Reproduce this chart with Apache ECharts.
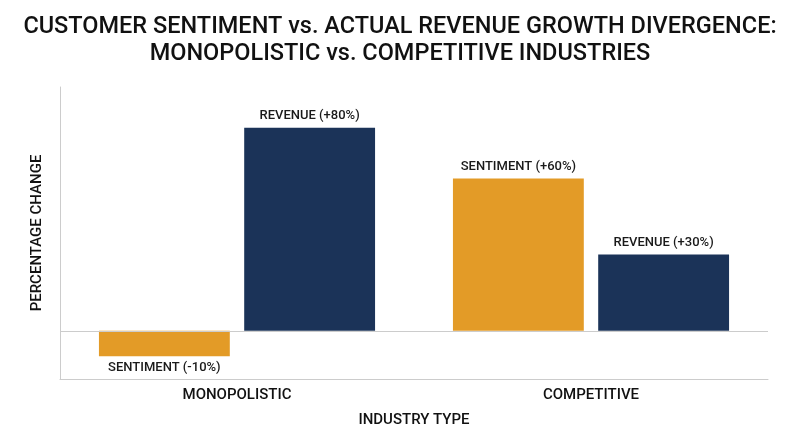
<!DOCTYPE html>
<html>
<head>
<meta charset="utf-8">
<script src="https://cdn.jsdelivr.net/npm/echarts@6/dist/echarts.min.js"></script>
<style>
  html, body { margin: 0; padding: 0; background: #fff; }
  #main { width: 800px; height: 447px; }
</style>
</head>
<body>
<div id="main"></div>
<script>
var categories = ['MONOPOLISTIC', 'COMPETITIVE'];
var sentimentValues = [-10, 60];
var revenueValues = [80, 30];
var sentimentName = 'SENTIMENT';
var revenueName = 'REVENUE';

function fmt(name) {
    return function (p) {
        var v = p.value;
        return name + ' (' + (v > 0 ? '+' : '') + v + '%)';
    };
}

function toData(values) {
    return values.map(function (v) {
        return { value: v, label: { position: v < 0 ? 'bottom' : 'top' } };
    });
}

var labelStyle = {
    show: true,
    fontFamily: 'Roboto',
    fontSize: 13,
    fontWeight: 500,
    color: '#1a1a1a',
    distance: 5
};

var myChart = echarts.init(document.getElementById('main'));
var option = {
    backgroundColor: '#ffffff',
    animation: false,
    title: {
        text: 'CUSTOMER SENTIMENT vs. ACTUAL REVENUE GROWTH DIVERGENCE:\nMONOPOLISTIC vs. COMPETITIVE INDUSTRIES',
        left: 'center',
        top: 9,
        textStyle: {
            fontFamily: 'Roboto',
            fontSize: 23.5,
            fontWeight: 500,
            color: '#111',
            lineHeight: 27
        }
    },
    grid: {
        left: 60,
        right: 32,
        top: 87,
        bottom: 68
    },
    xAxis: {
        type: 'category',
        data: categories,
        name: 'INDUSTRY TYPE',
        nameLocation: 'middle',
        nameGap: 34,
        nameTextStyle: { fontFamily: 'Roboto', fontSize: 15, fontWeight: 500, color: '#111' },
        axisLine: { onZero: false, lineStyle: { color: '#cccccc' } },
        axisTick: { show: false },
        axisLabel: { fontFamily: 'Roboto', fontSize: 15, fontWeight: 500, color: '#111', margin: 9 }
    },
    yAxis: {
        type: 'value',
        min: -19,
        max: 96,
        name: 'PERCENTAGE CHANGE',
        nameLocation: 'middle',
        nameGap: 15,
        nameTextStyle: { fontFamily: 'Roboto', fontSize: 15, fontWeight: 500, color: '#111' },
        axisLine: { show: true, lineStyle: { color: '#cccccc' } },
        axisTick: { show: false },
        axisLabel: { show: false },
        splitLine: { show: false }
    },
    series: [
        {
            name: sentimentName,
            type: 'bar',
            data: toData(sentimentValues),
            barGap: '11%',
            barCategoryGap: '22%',
            itemStyle: { color: '#e39b27' },
            label: Object.assign({ formatter: fmt(sentimentName) }, labelStyle),
            markLine: {
                silent: true,
                symbol: 'none',
                label: { show: false },
                lineStyle: { color: '#cccccc', type: 'solid', width: 1 },
                data: [{ yAxis: 0 }]
            }
        },
        {
            name: revenueName,
            type: 'bar',
            data: toData(revenueValues),
            itemStyle: { color: '#1b3358' },
            label: Object.assign({ formatter: fmt(revenueName) }, labelStyle)
        }
    ]
};
myChart.setOption(option);
</script>
</body>
</html>
